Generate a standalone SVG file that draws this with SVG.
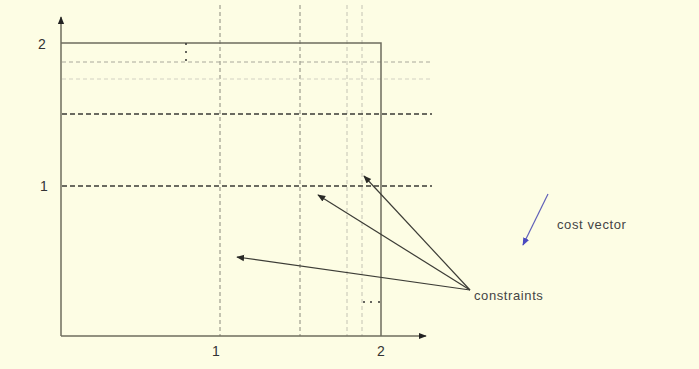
<svg xmlns="http://www.w3.org/2000/svg" width="699" height="369" viewBox="0 0 699 369">
<style>
.axis{stroke:#6e6c5e;stroke-width:1.5;fill:none}
.box{stroke:#6e6c5e;stroke-width:1.5;fill:none}
.vd{stroke:#8a897c;stroke-width:1;stroke-dasharray:4,3;fill:none}
.vl{stroke:#c4c3b4;stroke-width:1;stroke-dasharray:4,3;fill:none}
.hd{stroke:#3a3a34;stroke-width:1.3;stroke-dasharray:5,3;fill:none}
.hl{stroke:#a9a89b;stroke-width:1;stroke-dasharray:4,3;fill:none}
.hx{stroke:#d2d1c2;stroke-width:1;stroke-dasharray:4,3;fill:none}
.arr{stroke:#3c3c36;stroke-width:1.2;fill:none;marker-end:url(#ah)}
.lbl{font-family:"Liberation Sans",Arial,sans-serif;font-size:14px;fill:#333}
.txt{font-family:"Liberation Sans",Arial,sans-serif;font-size:13px;fill:#444;letter-spacing:0.6px}
</style>
<defs>
<marker id="ah" viewBox="0 0 10 10" refX="9" refY="5" markerWidth="8" markerHeight="8" orient="auto" markerUnits="userSpaceOnUse"><path d="M0,1 L10,5 L0,9 z" fill="#2a2a26"/></marker>
<marker id="ahb" viewBox="0 0 10 10" refX="9" refY="5" markerWidth="8" markerHeight="8" orient="auto" markerUnits="userSpaceOnUse"><path d="M0,1 L10,5 L0,9 z" fill="#4a4ac0"/></marker>
<marker id="axh" viewBox="0 0 10 10" refX="9" refY="5" markerWidth="8" markerHeight="8" orient="auto" markerUnits="userSpaceOnUse"><path d="M0,1 L10,5 L0,9 z" fill="#222"/></marker>
</defs>
<rect width="699" height="369" fill="#fdfde4"/>
<g id="grid">
<line class="vd" x1="220" y1="5" x2="220" y2="336"/>
<line class="vd" x1="300" y1="5" x2="300" y2="336"/>
<line class="vl" x1="347" y1="5" x2="347" y2="336"/>
<line class="vl" x1="362" y1="5" x2="362" y2="336"/>
<line class="hl" x1="62" y1="62" x2="432" y2="62"/>
<line class="hx" x1="62" y1="79" x2="432" y2="79"/>
<line class="hd" x1="62" y1="114" x2="432" y2="114"/>
<line class="hd" x1="62" y1="186" x2="432" y2="186"/>
</g>
<g id="box">
<polyline class="box" points="61,43 381,43 381,336"/>
</g>
<g id="axes">
<line class="axis" x1="61" y1="336" x2="61" y2="17" marker-end="url(#axh)"/>
<line class="axis" x1="61" y1="336" x2="426" y2="336" marker-end="url(#axh)"/>
<text class="lbl" x="38" y="49">2</text>
<text class="lbl" x="40" y="191">1</text>
<text class="lbl" x="212" y="356">1</text>
<text class="lbl" x="377" y="356">2</text>
</g>
<g id="dots">
<circle cx="186" cy="44" r="1" fill="#333"/>
<circle cx="186" cy="52" r="1" fill="#333"/>
<circle cx="186" cy="60" r="1" fill="#333"/>
<circle cx="364" cy="302" r="1" fill="#333"/>
<circle cx="371" cy="302" r="1" fill="#333"/>
<circle cx="379" cy="302" r="1" fill="#333"/>
</g>
<g id="connectors">
<line class="arr" x1="470" y1="290" x2="364" y2="176"/>
<line class="arr" x1="470" y1="290" x2="318" y2="195"/>
<line class="arr" x1="470" y1="290" x2="237" y2="257"/>
<line x1="548" y1="194" x2="523" y2="245" stroke="#6060b8" stroke-width="1.2" marker-end="url(#ahb)"/>
</g>
<g id="labels">
<text class="txt" x="474" y="300">constraints</text>
<text class="txt" x="557" y="229">cost vector</text>
</g>
</svg>
